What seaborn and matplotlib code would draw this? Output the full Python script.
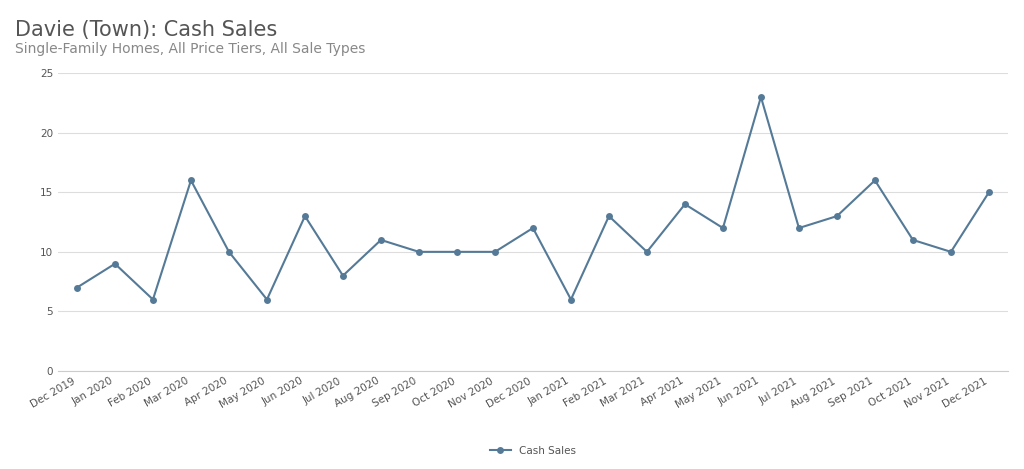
import matplotlib
matplotlib.use("Agg")
import matplotlib.pyplot as plt
import seaborn as sns
import pandas as pd

months = ["Dec 2019","Jan 2020","Feb 2020","Mar 2020","Apr 2020","May 2020","Jun 2020","Jul 2020",
          "Aug 2020","Sep 2020","Oct 2020","Nov 2020","Dec 2020","Jan 2021","Feb 2021","Mar 2021",
          "Apr 2021","May 2021","Jun 2021","Jul 2021","Aug 2021","Sep 2021","Oct 2021","Nov 2021","Dec 2021"]
cash_sales = [7,9,6,16,10,6,13,8,11,10,10,10,12,6,13,10,14,12,23,12,13,16,11,10,15]
yticks = [0,5,10,15,20,25]

df = pd.DataFrame({"idx": range(len(months)), "Cash Sales": cash_sales})
color = "#557a97"

fig = plt.figure(figsize=(10.24, 4.69), dpi=100)
ax = fig.add_axes([0.0566, 0.209, 0.9277, 0.635])
sns.lineplot(data=df, x="idx", y="Cash Sales", ax=ax, color=color, marker="o",
             markersize=5, markeredgewidth=0, linewidth=1.5, label="Cash Sales")
ax.set_xlim(-0.5, len(months) - 0.5)
ax.set_ylim(0, 25)
ax.set_yticks(yticks)
ax.set_xticks(range(len(months)))
ax.set_xticklabels(months, rotation=30, ha="right", fontsize=7.5, color="#555555")
ax.tick_params(axis="y", labelsize=7.5, labelcolor="#555555", length=0)
ax.tick_params(axis="x", length=0)
ax.grid(axis="y", color="#dddddd", linewidth=0.8)
ax.set_axisbelow(True)
for s in ["top", "right", "left"]:
    ax.spines[s].set_visible(False)
ax.spines["bottom"].set_color("#cccccc")
ax.set_xlabel("")
ax.set_ylabel("")
ax.legend(loc="upper center", bbox_to_anchor=(0.5, -0.22), frameon=False, fontsize=7.5,
          labelcolor="#555555")
fig.text(0.015, 0.935, "Davie (Town): Cash Sales", fontsize=15, color="#555555", va="center")
fig.text(0.015, 0.895, "Single-Family Homes, All Price Tiers, All Sale Types", fontsize=10,
         color="#888888", va="center")
fig.savefig("out.png", dpi=100, facecolor="white")
